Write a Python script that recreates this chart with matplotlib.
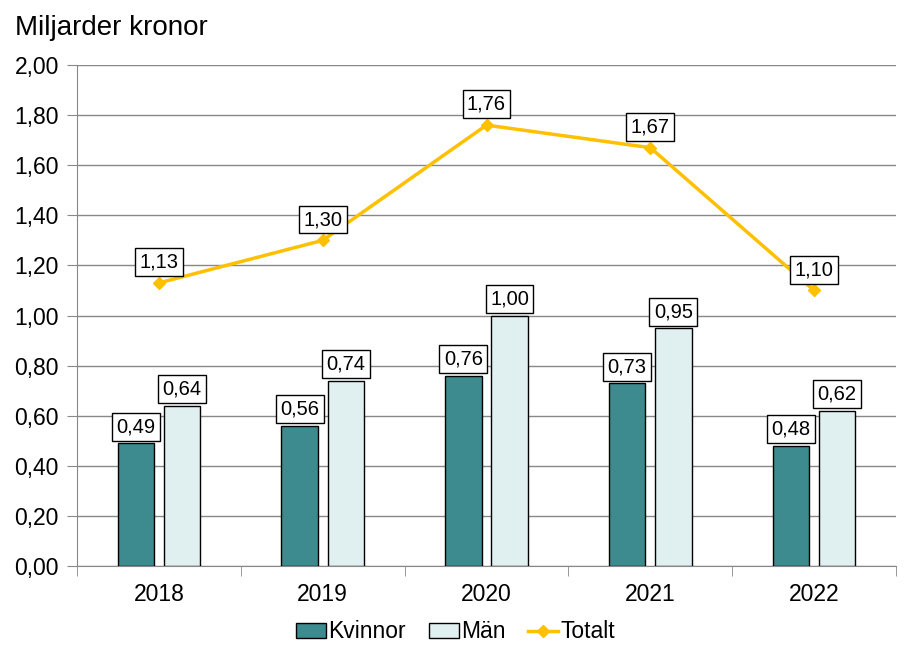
import matplotlib.pyplot as plt
import numpy as np

years = ['2018', '2019', '2020', '2021', '2022']
kvinnor = [0.49, 0.56, 0.76, 0.73, 0.48]
man = [0.64, 0.74, 1.00, 0.95, 0.62]
totalt = [1.13, 1.30, 1.76, 1.67, 1.10]

plt.rcParams['font.family'] = ['Liberation Sans', 'DejaVu Sans']


def fmt(v):
    return f"{v:.2f}".replace('.', ',')


fig = plt.figure(figsize=(9.11, 6.58), dpi=100)
ax = fig.add_axes([77 / 911, 1 - 566 / 658, (896 - 77) / 911, (566 - 65) / 658])

x = np.arange(len(years))
w = 0.222
b1 = ax.bar(x - 0.141, kvinnor, w, color='#3d8a8f', edgecolor='black', linewidth=1, label='Kvinnor', zorder=3)
b2 = ax.bar(x + 0.141, man, w, color='#e0f0f0', edgecolor='black', linewidth=1, label='Män', zorder=3)
ln, = ax.plot(x, totalt, color='#ffc000', linewidth=2.5, marker='D', markersize=6, label='Totalt', zorder=4)

# etiketter i vita rutor
box = dict(boxstyle='square,pad=0.22', facecolor='white', edgecolor='black', linewidth=1)
for i in range(len(years)):
    ax.annotate(fmt(kvinnor[i]), (x[i] - 0.141, kvinnor[i]), xytext=(0, 5), textcoords='offset points',
                ha='center', va='bottom', fontsize=14.5, bbox=box, zorder=5)
    ax.annotate(fmt(man[i]), (x[i] + 0.141, man[i]), xytext=(0, 5), textcoords='offset points',
                ha='center', va='bottom', fontsize=14.5, bbox=box, zorder=5)
    ax.annotate(fmt(totalt[i]), (x[i], totalt[i]), xytext=(0, 15), textcoords='offset points',
                ha='center', va='center', fontsize=14.5, bbox=box, zorder=5)

ax.set_xlim(-0.5, 4.5)
ax.set_ylim(0, 2.0)
ax.set_yticks(np.arange(0, 2.01, 0.2))
ax.set_yticklabels([fmt(v) for v in np.arange(0, 2.01, 0.2)], fontsize=16.5)
ax.set_xticks(x)
ax.set_xticklabels(years, fontsize=16.5)
ax.tick_params(axis='x', length=0, pad=12)
ax.tick_params(axis='y', length=7, color='#888888', pad=6)
ax.set_xticks(np.arange(-0.5, 4.6, 1), minor=True)
ax.tick_params(axis='x', which='minor', length=7, color='#888888')
ax.grid(axis='y', color='#888888', linewidth=1, zorder=0)

for s in ['top', 'right']:
    ax.spines[s].set_visible(False)
ax.spines['left'].set_color('#888888')
ax.spines['bottom'].set_color('#888888')

fig.text(15 / 911, 1 - 28 / 658, 'Miljarder kronor', fontsize=20, ha='left', va='center')

fig.legend([b1, b2, ln], ['Kvinnor', 'Män', 'Totalt'], loc='center', bbox_to_anchor=(0.5, 1 - 632 / 658),
           ncol=3, frameon=False, fontsize=16.5, handlelength=1.3, handleheight=0.6,
           handletextpad=0.1, columnspacing=1.0)

fig.savefig('out.png', dpi=100)
